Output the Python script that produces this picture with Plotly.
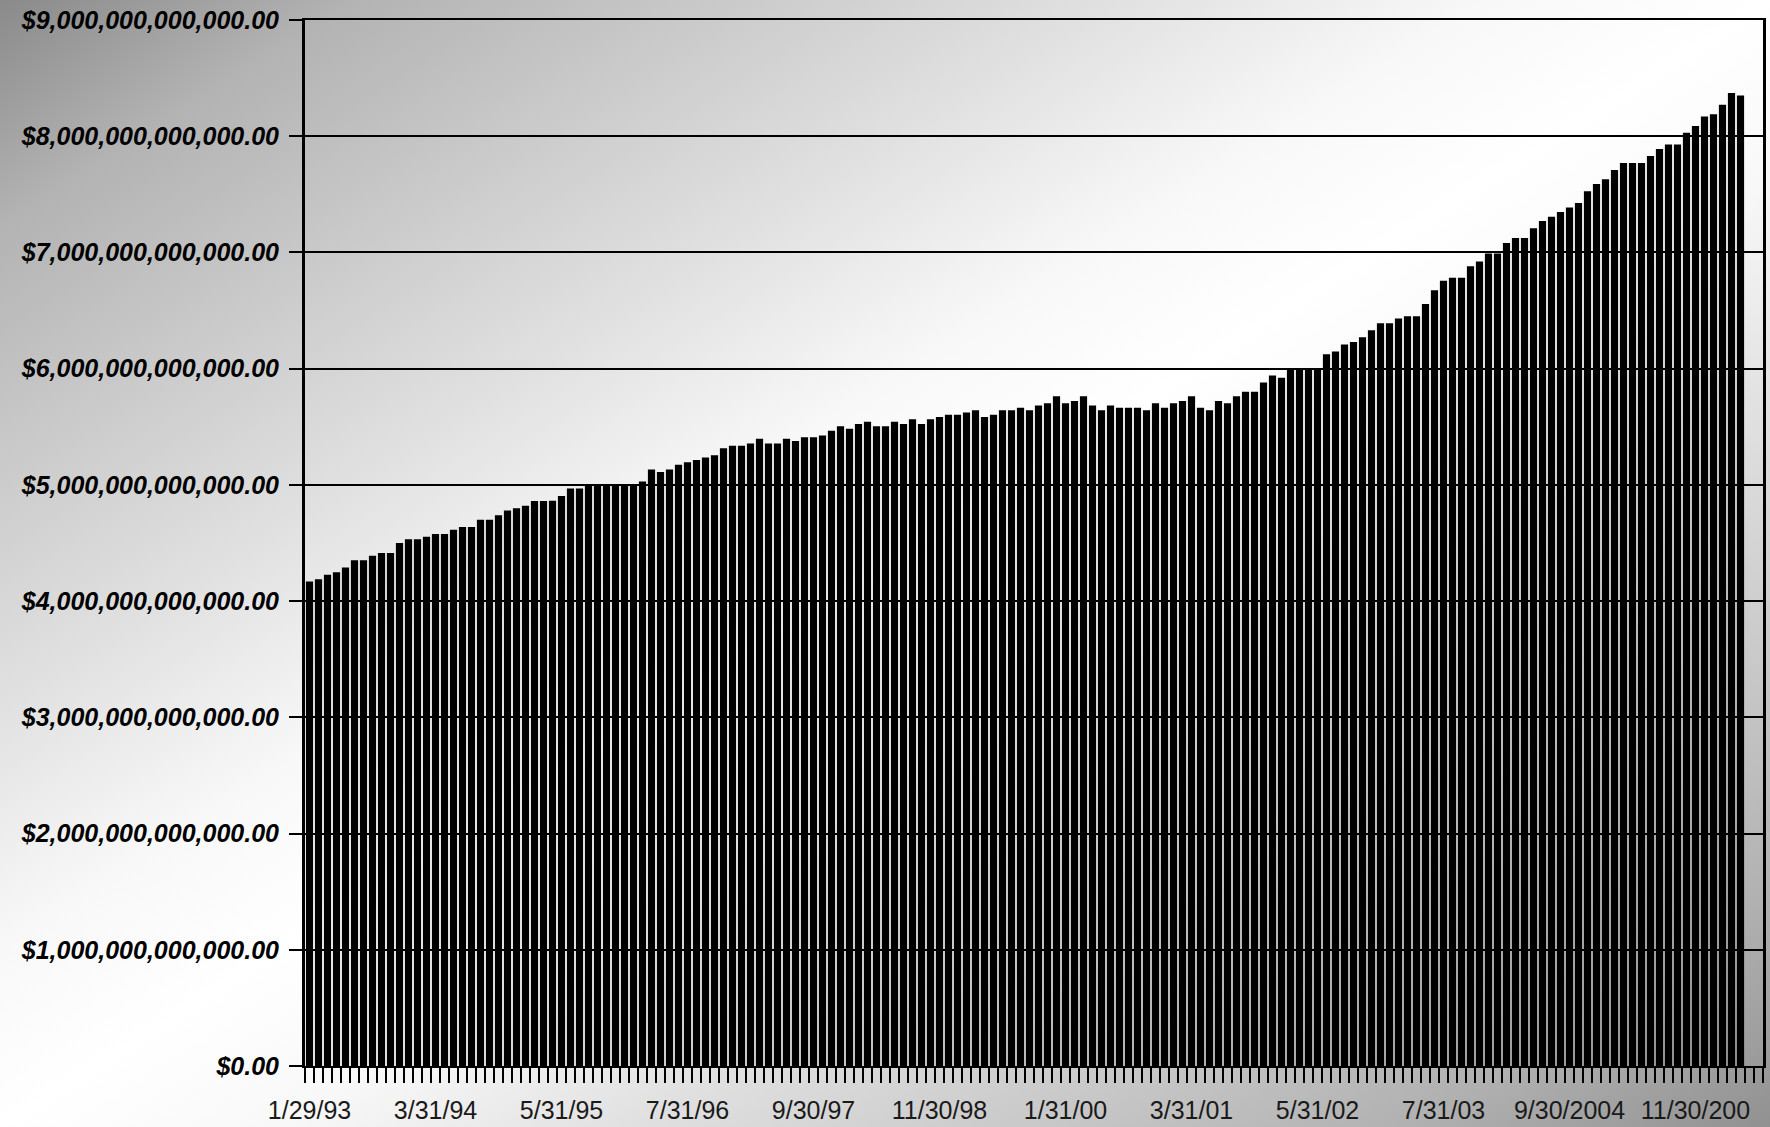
import base64
import plotly.graph_objects as go

# Monthly public debt outstanding, trillions of US$ (Jan 1993 onward)
debt_trillions = [
    4.168, 4.188, 4.226, 4.249, 4.290, 4.351, 4.351, 4.391, 4.414, 4.414,
    4.499, 4.533, 4.533, 4.554, 4.577, 4.577, 4.614, 4.638, 4.638, 4.699,
    4.699, 4.739, 4.780, 4.800, 4.820, 4.861, 4.861, 4.863, 4.904, 4.968,
    4.968, 4.994, 4.994, 4.994, 4.994, 4.994, 4.994, 5.029, 5.133, 5.110,
    5.133, 5.174, 5.194, 5.214, 5.235, 5.255, 5.316, 5.336, 5.336, 5.357,
    5.397, 5.357, 5.357, 5.397, 5.377, 5.410, 5.410, 5.425, 5.465, 5.504,
    5.484, 5.524, 5.544, 5.504, 5.504, 5.544, 5.524, 5.564, 5.524, 5.564,
    5.584, 5.603, 5.603, 5.623, 5.643, 5.584, 5.603, 5.643, 5.643, 5.663,
    5.643, 5.683, 5.703, 5.762, 5.703, 5.722, 5.762, 5.683, 5.643, 5.683,
    5.663, 5.663, 5.663, 5.643, 5.703, 5.663, 5.703, 5.722, 5.762, 5.663,
    5.643, 5.722, 5.703, 5.762, 5.802, 5.802, 5.881, 5.941, 5.921, 6.000,
    6.000, 6.000, 6.000, 6.125, 6.148, 6.209, 6.229, 6.270, 6.330, 6.391,
    6.391, 6.432, 6.452, 6.452, 6.557, 6.675, 6.757, 6.783, 6.783, 6.881,
    6.922, 6.991, 6.991, 7.081, 7.125, 7.125, 7.209, 7.270, 7.308, 7.348,
    7.386, 7.426, 7.526, 7.589, 7.629, 7.709, 7.769, 7.769, 7.769, 7.829,
    7.889, 7.929, 7.929, 8.029, 8.089, 8.169, 8.189, 8.271, 8.371, 8.351,
]

# Category-axis labels (one every 14 months)
tick_labels = ["1/29/93", "3/31/94", "5/31/95", "7/31/96", "9/30/97", "11/30/98",
               "1/31/00", "3/31/01", "5/31/02", "7/31/03", "9/30/2004", "11/30/200"]
label_step = 14
empty_categories = 2

x_idx = list(range(len(debt_trillions)))
y_vals = [v * 1e12 for v in debt_trillions]

W, H = 1770, 1127
ML, MR, MT, MB = 305, 7, 20, 61
pw, ph = W - ML - MR, H - MT - MB

stops = [(0.0, "#8a8a8a"), (0.10, "#b3b3b3"), (0.22, "#cdcdcd"), (0.32, "#e2e2e2"),
         (0.42, "#f8f8f8"), (0.50, "#ffffff"), (0.58, "#f8f8f8"), (0.68, "#e0e0e0"),
         (0.78, "#cbcbcb"), (0.90, "#b0b0b0"), (1.0, "#919191")]
stop_svg = "".join(f'<stop offset="{o}" stop-color="{c}"/>' for o, c in stops)
svg = (
    f'<svg xmlns="http://www.w3.org/2000/svg" width="{W}" height="{H}" viewBox="0 0 {W} {H}" preserveAspectRatio="none">'
    f'<defs><linearGradient id="g" x1="0" y1="0" x2="1" y2="1">{stop_svg}</linearGradient></defs>'
    f'<rect x="0" y="0" width="{W}" height="{H}" fill="url(#g)"/></svg>'
)
svg_uri = "data:image/svg+xml;base64," + base64.b64encode(svg.encode()).decode()

fig = go.Figure()
fig.add_trace(go.Bar(
    x=x_idx, y=y_vals,
    marker=dict(color="black", line=dict(width=0)),
    hoverinfo="skip",
))

fig.update_layout(
    width=W, height=H,
    margin=dict(l=ML, r=MR, t=MT, b=MB, pad=0, autoexpand=False),
    paper_bgcolor="rgba(0,0,0,0)",
    plot_bgcolor="rgba(0,0,0,0)",
    bargap=0.2,
    showlegend=False,
    images=[dict(
        source=svg_uri, xref="paper", yref="paper",
        x=-ML / pw, y=1 + MT / ph,
        sizex=W / pw, sizey=H / ph,
        sizing="stretch", layer="below",
        xanchor="left", yanchor="top",
    )],
)

fig.update_xaxes(
    automargin=False,
    range=[-0.5, len(debt_trillions) - 0.5 + empty_categories],
    tickmode="array",
    tickvals=[i * label_step for i in range(len(tick_labels))],
    ticktext=tick_labels,
    ticks="",
    tickangle=0,
    ticklabelstandoff=21,
    tickfont=dict(family="Liberation Sans, Arial, sans-serif", size=25, color="#1a1a1a"),
    minor=dict(ticks="outside", ticklen=15, tickwidth=2, tickcolor="black",
               tickmode="linear", tick0=-0.5, dtick=1, showgrid=False),
    showline=True, linecolor="black", linewidth=2, mirror=True,
    showgrid=False, zeroline=False,
)

fig.update_yaxes(
    automargin=False,
    range=[0, 9e12],
    dtick=1e12, tick0=0,
    tickformat="$,.2f",
    ticks="outside", ticklen=13, tickwidth=2, tickcolor="black",
    ticklabelstandoff=5,
    tickfont=dict(family="Liberation Sans, Arial, sans-serif",
                  size=25, color="black", weight="bold", style="italic"),
    showline=True, linecolor="black", linewidth=3, mirror=True,
    showgrid=True, gridcolor="black", gridwidth=2,
    zeroline=False,
)

fig.write_html(
    "out.html",
    config={"displayModeBar": False},
    post_script="document.body.style.margin='0';document.body.style.overflow='hidden';",
)
